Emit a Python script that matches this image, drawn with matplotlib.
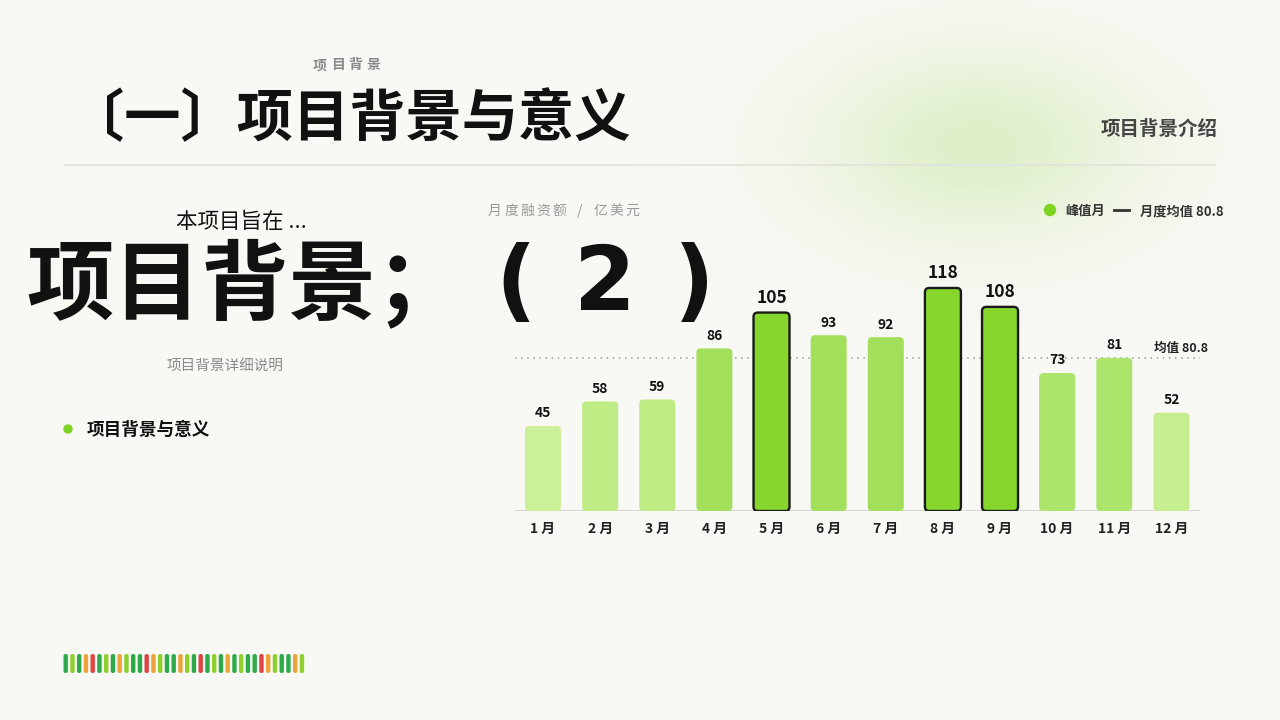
import numpy as np
import matplotlib
matplotlib.use("Agg")
import matplotlib.pyplot as plt
from matplotlib.patches import FancyBboxPatch, Circle
from matplotlib.lines import Line2D

plt.rcParams['font.family'] = ['Noto Sans CJK SC', 'DejaVu Sans']

# ---- data ----
months = ["1 月", "2 月", "3 月", "4 月", "5 月", "6 月",
          "7 月", "8 月", "9 月", "10 月", "11 月", "12 月"]
funding = [45, 58, 59, 86, 105, 93, 92, 118, 108, 73, 81, 52]
peak_months = ["5 月", "8 月", "9 月"]
mean_value = 80.8

# decorative strip colours (left bottom)
strip = ["g", "l", "g", "o", "r", "g", "l", "g", "o", "l", "g", "g",
         "r", "o", "l", "g", "g", "o", "l", "g", "r", "g", "l", "g",
         "o", "g", "l", "g", "g", "r", "o", "l", "g", "g", "o", "l"]

BG = "#f8f8f4"
W, H = 1280, 720

fig = plt.figure(figsize=(12.8, 7.2), dpi=100, facecolor=BG)

# background axes in pixel coordinates (y down)
bg = fig.add_axes([0, 0, 1, 1], zorder=0)
bg.axis("off")
bg.set_facecolor(BG)

# soft green glow
yy, xx = np.mgrid[0:H, 0:W]
d = ((xx - 978) / 210.0) ** 2 + ((yy - 145) / 125.0) ** 2
alpha = 0.62 * np.exp(-d * 1.8)
glow = np.zeros((H, W, 4))
glow[..., 0] = 0xcf / 255
glow[..., 1] = 0xea / 255
glow[..., 2] = 0xae / 255
glow[..., 3] = alpha
bg.imshow(glow, extent=(0, W, H, 0), zorder=0, interpolation="bilinear")
bg.set_xlim(0, W)
bg.set_ylim(H, 0)


def spaced(x, y, s, size, track, **kw):
    # place characters one by one with extra tracking (pixels)
    em = size * 100 / 72
    for ch in s:
        bg.text(x, y, ch, fontsize=size, ha="left", va="center", **kw)
        if ch == " ":
            x += em * 0.3
        elif ord(ch) < 128:
            x += em * 0.45 + track
        else:
            x += em + track


# header
spaced(313, 65, "项目背景", 10, 4, fontweight="bold", color="#8a8a8a")
bg.text(68, 120, "〔一〕项目背景与意义", fontsize=40.5, fontweight="bold",
        color="#111111", ha="left", va="center")
bg.text(1218, 129, "项目背景介绍", fontsize=14, fontweight="bold", color="#444444",
        ha="right", va="center")
bg.plot([65, 1215], [165, 165], color="#e2e2dc", lw=1.2, zorder=1)

# left block
bg.text(241, 222, "本项目旨在 ...", fontsize=15.5, color="#111111",
        ha="center", va="center")
bg.text(26, 286, "项目背景；", fontsize=63, fontweight="heavy",
        color="#111111", ha="left", va="center", zorder=5)
for cx, ch in [(516, "("), (605, "2"), (694, ")")]:
    bg.text(cx, 310, ch, fontsize=64, fontweight="bold", family="DejaVu Sans",
            color="#111111", ha="center", va="baseline", zorder=5)
bg.text(225, 367, "项目背景详细说明", fontsize=10.5, color="#8a8a8a",
        ha="center", va="center")
bg.add_patch(Circle((68, 429), 4, color="#7ed321", zorder=2))
bg.text(87, 430, "项目背景与意义", fontsize=12.7, fontweight="bold", color="#111111",
        ha="left", va="center")

# chart title + legend
spaced(488, 211, "月度融资额  /  亿美元", 10, 2.2, color="#9a9a9a")
bg.add_patch(Circle((1050, 210), 5.5, color="#7ed321", zorder=2))
bg.text(1065, 211, "峰值月", fontsize=9.5, fontweight="bold", color="#333333",
        ha="left", va="center")
bg.add_line(Line2D([1114, 1129], [210, 210], color="#333333", lw=2))
bg.text(1140, 211, "月度均值 80.8", fontsize=9.5, fontweight="bold", color="#333333",
        ha="left", va="center")

# decorative strip
palette = {"g": "#2faa4a", "l": "#8fd02f", "o": "#eea23a", "r": "#e04545"}
for i, c in enumerate(strip):
    x0 = 63.5 + i * 6.75
    bg.add_patch(FancyBboxPatch((x0, 654), 4.4, 19,
                                boxstyle="round,pad=0,rounding_size=2",
                                fc=palette[c], ec="none", zorder=2))

# ---- bar chart ----
px_per_unit = 1.89
base_y = 511
top_y = 250
ax_left, ax_right = 515, 1200
ax = fig.add_axes([ax_left / W, (H - base_y) / H, (ax_right - ax_left) / W,
                   (base_y - top_y) / H], zorder=1)
ax.patch.set_alpha(0)
ymax = (base_y - top_y) / px_per_unit
ax.set_ylim(0, ymax)
ax.set_xlim(-0.49, 11.5)
for s in ax.spines.values():
    s.set_visible(False)
ax.set_yticks([])
ax.set_xticks(range(len(months)))
ax.set_xticklabels(months, fontsize=10, fontweight="bold", color="#222222")
ax.tick_params(axis="x", length=0, pad=8)
ax.axhline(0, color="#d8d8d2", lw=1.5, zorder=1)


def bar_color(v, is_peak):
    if is_peak:
        return "#86d62e"
    if v < 50:
        return "#ccf09a"
    if v < 56:
        return "#c6ee91"
    if v < 65:
        return "#bfeb85"
    if v < 85:
        return "#ade46b"
    return "#a2e05b"


bw = 0.63
aspect = (1 / px_per_unit) / (1 / 57.1)
for i, (m, v) in enumerate(zip(months, funding)):
    pk = m in peak_months
    p = FancyBboxPatch((i - bw / 2, 0), bw, v,
                       boxstyle="round,pad=0,rounding_size=0.075",
                       mutation_aspect=aspect,
                       fc=bar_color(v, pk),
                       ec="#1a1a1a" if pk else "none",
                       lw=1.7 if pk else 0, zorder=3)
    ax.add_patch(p)
    ax.annotate(str(v), (i, v), xytext=(0, 4), textcoords="offset points",
                ha="center", va="bottom", fontweight="bold",
                fontsize=12.5 if pk else 10, color="#111111", zorder=4)

ax.axhline(mean_value, color="#999999", lw=1.1, ls=(0, (1, 3)), zorder=2)
ax.text(10.70, mean_value + 5.5, "均值 80.8", fontsize=9, fontweight="bold",
        color="#222222", ha="left", va="center", zorder=4)

fig.savefig("out.png", dpi=100, facecolor=BG)
